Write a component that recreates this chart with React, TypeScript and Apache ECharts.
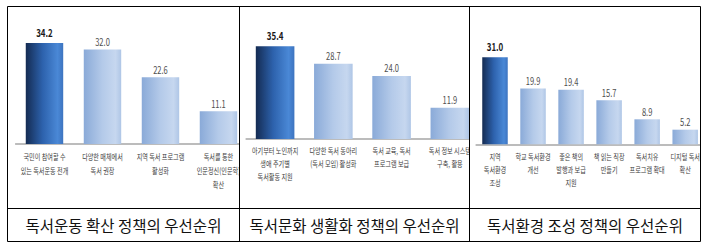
import React, { useEffect, useRef } from "react";
import * as echarts from "echarts";

const cats1 = ["국민이 참여할 수\n있는 독서운동 전개", "다양한 매체에서\n독서 권장", "지역 독서 프로그램\n활성화", "독서를 통한\n인문정신(인문학)\n확산"];
const vals1 = [34.2, 32.0, 22.6, 11.1];
const cats2 = ["아기부터 노인까지\n생애 주기별\n독서활동 지원", "다양한 독서 동아리\n(독서 모임) 활성화", "독서 교육, 독서\n프로그램 보급", "독서 정보 시스템\n구축, 활용"];
const vals2 = [35.4, 28.7, 24.0, 11.9];
const cats3 = ["지역\n독서환경\n조성", "학교 독서환경\n개선", "좋은 책의\n발행과 보급\n지원", "책 읽는 직장\n만들기", "독서치유\n프로그램 확대", "디지털 독서\n확산"];
const vals3 = [31.0, 19.9, 19.4, 15.7, 8.9, 5.2];
const captions = ["독서운동 확산 정책의 우선순위", "독서문화 생활화 정책의 우선순위", "독서환경 조성 정책의 우선순위"];

const FONT = "'Noto Sans CJK KR', 'Noto Sans', sans-serif";
const SX = 0.72;

type Panel = {
  cats: string[];
  vals: number[];
  clipLeft: number;
  clipWidth: number;
  gridLeft: number;
  gridWidth: number;
  gridTop: number;
  gridHeight: number;
  barWidth: number;
  lineHeight: number;
};

const panels: Panel[] = [
  { cats: cats1, vals: vals1, clipLeft: 8, clipWidth: 231, gridLeft: 10.4, gridWidth: 322.2, gridTop: 19, gridHeight: 118, barWidth: 52, lineHeight: 14 },
  { cats: cats2, vals: vals2, clipLeft: 240, clipWidth: 229, gridLeft: 8.3, gridWidth: 323.6, gridTop: 27.2, gridHeight: 104.8, barWidth: 53.6, lineHeight: 12.7 },
  { cats: cats3, vals: vals3, clipLeft: 470, clipWidth: 230, gridLeft: 8.3, gridWidth: 317, gridTop: 24.9, gridHeight: 112.4, barWidth: 35.4, lineHeight: 13 },
];

function darkGrad() {
  return new echarts.graphic.LinearGradient(0, 0, 1, 0, [
    { offset: 0, color: "#142b52" },
    { offset: 0.45, color: "#2d62ad" },
    { offset: 0.85, color: "#4a88d6" },
    { offset: 1, color: "#3d74c0" },
  ]);
}
function lightGrad() {
  return new echarts.graphic.LinearGradient(0, 0, 1, 0, [
    { offset: 0, color: "#8aaad8" },
    { offset: 0.5, color: "#b4cae9" },
    { offset: 0.85, color: "#c6d7ef" },
    { offset: 1, color: "#afc6e6" },
  ]);
}

function panelOption(p: Panel) {
  return {
    animation: false,
    grid: { left: p.gridLeft, top: p.gridTop, width: p.gridWidth, height: p.gridHeight },
    xAxis: {
      type: "category",
      data: p.cats,
      axisTick: { show: false },
      axisLine: { lineStyle: { color: "#a6a6a6", width: 1.5 } },
      axisLabel: { interval: 0, margin: 5, fontSize: 8.5, lineHeight: p.lineHeight, color: "#3c3c3c", fontFamily: FONT },
    },
    yAxis: { type: "value", min: 0, max: 40, show: false, splitLine: { show: false } },
    series: [
      {
        type: "bar",
        barWidth: p.barWidth,
        data: p.vals.map((v, i) => ({
          value: v,
          itemStyle: { color: i === 0 ? darkGrad() : lightGrad() },
          label:
            i === 0
              ? { fontWeight: "bold", fontSize: 11, color: "#1a1a1a", distance: 5 }
              : { fontWeight: "normal", fontSize: 10.5, color: "#505050", distance: 3 },
        })),
        label: {
          show: true,
          position: "top",
          fontFamily: FONT,
          formatter: (d: any) => Number(d.value).toFixed(1),
        },
      },
    ],
  };
}

function bgOption() {
  const ln = (x1: number, y1: number, x2: number, y2: number) => ({
    type: "line",
    shape: { x1, y1, x2, y2 },
    style: { stroke: "#000", lineWidth: 1 },
    silent: true,
  });
  const cx = [123.5, 354.5, 585];
  return {
    animation: false,
    graphic: [
      ln(7.5, 6.5, 700.5, 6.5),
      ln(7.5, 208.5, 700.5, 208.5),
      ln(7.5, 241.5, 700.5, 241.5),
      ln(7.5, 6.5, 7.5, 241.5),
      ln(239.5, 6.5, 239.5, 241.5),
      ln(469.5, 6.5, 469.5, 241.5),
      ln(700.5, 6.5, 700.5, 241.5),
      ...captions.map((c, i) => ({
        type: "text",
        x: cx[i],
        y: 225,
        style: {
          text: c,
          fontSize: 15.5,
          fontFamily: FONT,
          fill: "#111",
          align: "center",
          verticalAlign: "middle",
        },
      })),
    ],
  };
}

export default function App() {
  const bgRef = useRef<HTMLDivElement>(null);
  const r0 = useRef<HTMLDivElement>(null);
  const r1 = useRef<HTMLDivElement>(null);
  const r2 = useRef<HTMLDivElement>(null);
  const refs = [r0, r1, r2];

  useEffect(() => {
    const charts: echarts.ECharts[] = [];
    if (bgRef.current) {
      const bg = echarts.init(bgRef.current, null, { renderer: "svg" });
      bg.setOption(bgOption() as any);
      charts.push(bg);
    }
    panels.forEach((p, i) => {
      const el = refs[i].current;
      if (!el) return;
      const c = echarts.init(el, null, { renderer: "svg" });
      c.setOption(panelOption(p) as any);
      charts.push(c);
    });
    return () => charts.forEach((c) => c.dispose());
  }, []);

  return (
    <div style={{ position: "fixed", left: 0, top: 0, width: 707, height: 247, background: "#fff", overflow: "hidden" }}>
      <div ref={bgRef} style={{ position: "absolute", left: 0, top: 0, width: 707, height: 247 }} />
      {panels.map((p, i) => (
        <div
          key={i}
          style={{ position: "absolute", left: p.clipLeft, top: 7, width: p.clipWidth, height: 201, overflow: "hidden" }}
        >
          <div
            ref={refs[i]}
            style={{
              position: "absolute",
              left: 0,
              top: 0,
              width: 400,
              height: 201,
              transform: `scaleX(${SX})`,
              transformOrigin: "0 0",
            }}
          />
        </div>
      ))}
    </div>
  );
}
